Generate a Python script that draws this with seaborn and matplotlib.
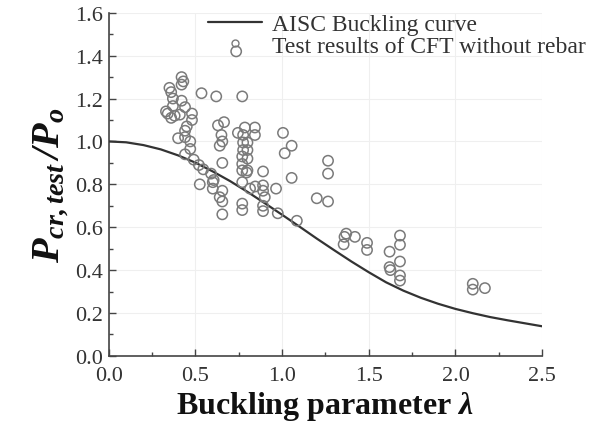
import matplotlib
matplotlib.use("Agg")
import matplotlib.pyplot as plt
import seaborn as sns
import pandas as pd
from matplotlib.ticker import MultipleLocator
from matplotlib.lines import Line2D

# AISC buckling curve
curve_lambda = [0.0, 0.1, 0.2, 0.3, 0.4, 0.5, 0.6, 0.7, 0.8, 0.9, 1.0, 1.1, 1.2,
                1.3, 1.4, 1.5, 1.6, 1.7, 1.8, 1.9, 2.0, 2.1, 2.2, 2.3, 2.4, 2.5]
curve_ratio = [1.000, 0.996, 0.983, 0.963, 0.935, 0.901, 0.860, 0.815, 0.765, 0.712,
               0.658, 0.603, 0.547, 0.493, 0.440, 0.390, 0.343, 0.304, 0.271, 0.243,
               0.219, 0.199, 0.181, 0.166, 0.152, 0.138]

# Test results of CFT without rebar
test_lambda = [0.33, 0.35, 0.36, 0.37, 0.37, 0.36, 0.34, 0.42, 0.43, 0.42, 0.42, 0.41,
               0.38, 0.44, 0.48, 0.48, 0.45, 0.44, 0.40, 0.44, 0.47, 0.47, 0.44, 0.49,
               0.52, 0.545, 0.535, 0.59, 0.605, 0.525, 0.60, 0.60,
               0.62, 0.63, 0.665, 0.65, 0.64, 0.655, 0.655, 0.655, 0.655, 0.655, 0.64,
               0.735, 0.745, 0.77, 0.785, 0.775, 0.775, 0.775, 0.77, 0.77, 0.77, 0.77,
               0.77, 0.77, 0.80, 0.80, 0.80, 0.80, 0.815, 0.795, 0.843, 0.843, 0.845,
               0.89, 0.89, 0.89, 0.90, 0.89, 0.89, 0.965, 0.975,
               1.005, 1.055, 1.015, 1.055, 1.085, 1.20, 1.265, 1.265, 1.265,
               1.37, 1.36, 1.355, 1.42, 1.49, 1.49, 1.62, 1.62, 1.625,
               1.68, 1.68, 1.68, 1.68, 1.68, 2.10, 2.10, 2.17]
test_ratio = [1.14, 1.25, 1.23, 1.20, 1.165, 1.11, 1.13, 1.30, 1.28, 1.265, 1.19, 1.125,
              1.12, 1.16, 1.13, 1.10, 1.07, 1.05, 1.015, 1.02, 1.00, 0.965, 0.94, 0.915,
              0.89, 0.87, 1.225, 0.85, 0.82, 0.80, 0.81, 0.78,
              1.21, 1.075, 1.09, 1.03, 0.98, 1.00, 0.90, 0.77, 0.72, 0.66, 0.74,
              1.42, 1.04, 1.21, 1.065, 1.03, 0.995, 0.96, 0.93, 0.895, 0.865, 0.81,
              0.71, 0.68, 0.995, 0.96, 0.92, 0.865, 0.78, 0.855, 1.065, 1.03, 0.79,
              0.86, 0.795, 0.77, 0.74, 0.70, 0.675, 0.78, 0.665,
              1.04, 0.98, 0.945, 0.83, 0.63, 0.735, 0.72, 0.91, 0.85,
              0.57, 0.555, 0.52, 0.555, 0.527, 0.494, 0.486, 0.414, 0.40,
              0.561, 0.518, 0.44, 0.375, 0.351, 0.336, 0.309, 0.316]

x_ticks = [0.0, 0.5, 1.0, 1.5, 2.0, 2.5]
y_ticks = [0.0, 0.2, 0.4, 0.6, 0.8, 1.0, 1.2, 1.4, 1.6]

sns.set_style("ticks")
plt.rcParams["font.family"] = ["Liberation Serif", "DejaVu Serif"]
plt.rcParams["mathtext.fontset"] = "custom"
plt.rcParams["mathtext.rm"] = "Liberation Serif:bold:italic"
plt.rcParams["mathtext.it"] = "Liberation Serif:bold:italic"
plt.rcParams["mathtext.bf"] = "Liberation Serif:bold:italic"

fig = plt.figure(figsize=(6.01, 4.31), dpi=100)
ax = fig.add_axes([0.181, 0.172, 0.721, 0.796])

curve_df = pd.DataFrame({"lam": curve_lambda, "ratio": curve_ratio})
test_df = pd.DataFrame({"lam": test_lambda, "ratio": test_ratio})

sns.lineplot(data=curve_df, x="lam", y="ratio", ax=ax, color="#333333", linewidth=1.6,
             zorder=3)
sns.scatterplot(data=test_df, x="lam", y="ratio", ax=ax, marker="o", s=55,
                facecolors="none", edgecolor="#7a7a7a", linewidth=1.1, zorder=4)

ax.set_xlim(0, 2.5)
ax.set_ylim(0, 1.6)
ax.set_xticks(x_ticks)
ax.set_yticks(y_ticks)
ax.set_xticklabels([f"{t:.1f}" for t in x_ticks])
ax.set_yticklabels([f"{t:.1f}" for t in y_ticks])
ax.xaxis.set_minor_locator(MultipleLocator(0.25))
ax.yaxis.set_minor_locator(MultipleLocator(0.1))
ax.tick_params(which="major", direction="in", length=5, width=1.0, colors="#444444",
               labelsize=16, labelcolor="#333333")
ax.tick_params(axis="y", which="major", pad=4)
ax.tick_params(axis="x", which="major", pad=7)
ax.tick_params(which="minor", direction="in", length=3, width=1.0, colors="#444444")
ax.grid(True, which="major", color="#efefef", linewidth=0.8, zorder=0)
for s in ["top", "right"]:
    ax.spines[s].set_visible(False)
for s in ["left", "bottom"]:
    ax.spines[s].set_color("#444444")
    ax.spines[s].set_linewidth(1.2)

ax.set_xlabel(r"Buckling parameter $\lambda$", fontsize=23, fontweight="bold",
              color="#111111", labelpad=3)
ax.set_ylabel(r"$P_{cr,test}\,/P_o$", fontsize=29, color="#111111", labelpad=3)

handles = [Line2D([], [], color="#333333", linewidth=1.6),
           Line2D([], [], linestyle="none", marker="o", markersize=5,
                  markerfacecolor="none", markeredgecolor="#7a7a7a", markeredgewidth=1.0)]
labels = ["AISC Buckling curve", "Test results of CFT without rebar"]
leg = fig.legend(handles, labels, loc="upper left", bbox_to_anchor=(0.346, 0.966),
                 frameon=False, fontsize=17, handlelength=2.3, handletextpad=0.42,
                 labelspacing=0.0, borderpad=0, borderaxespad=0, labelcolor="#333333")

fig.savefig("out.png", dpi=100)
